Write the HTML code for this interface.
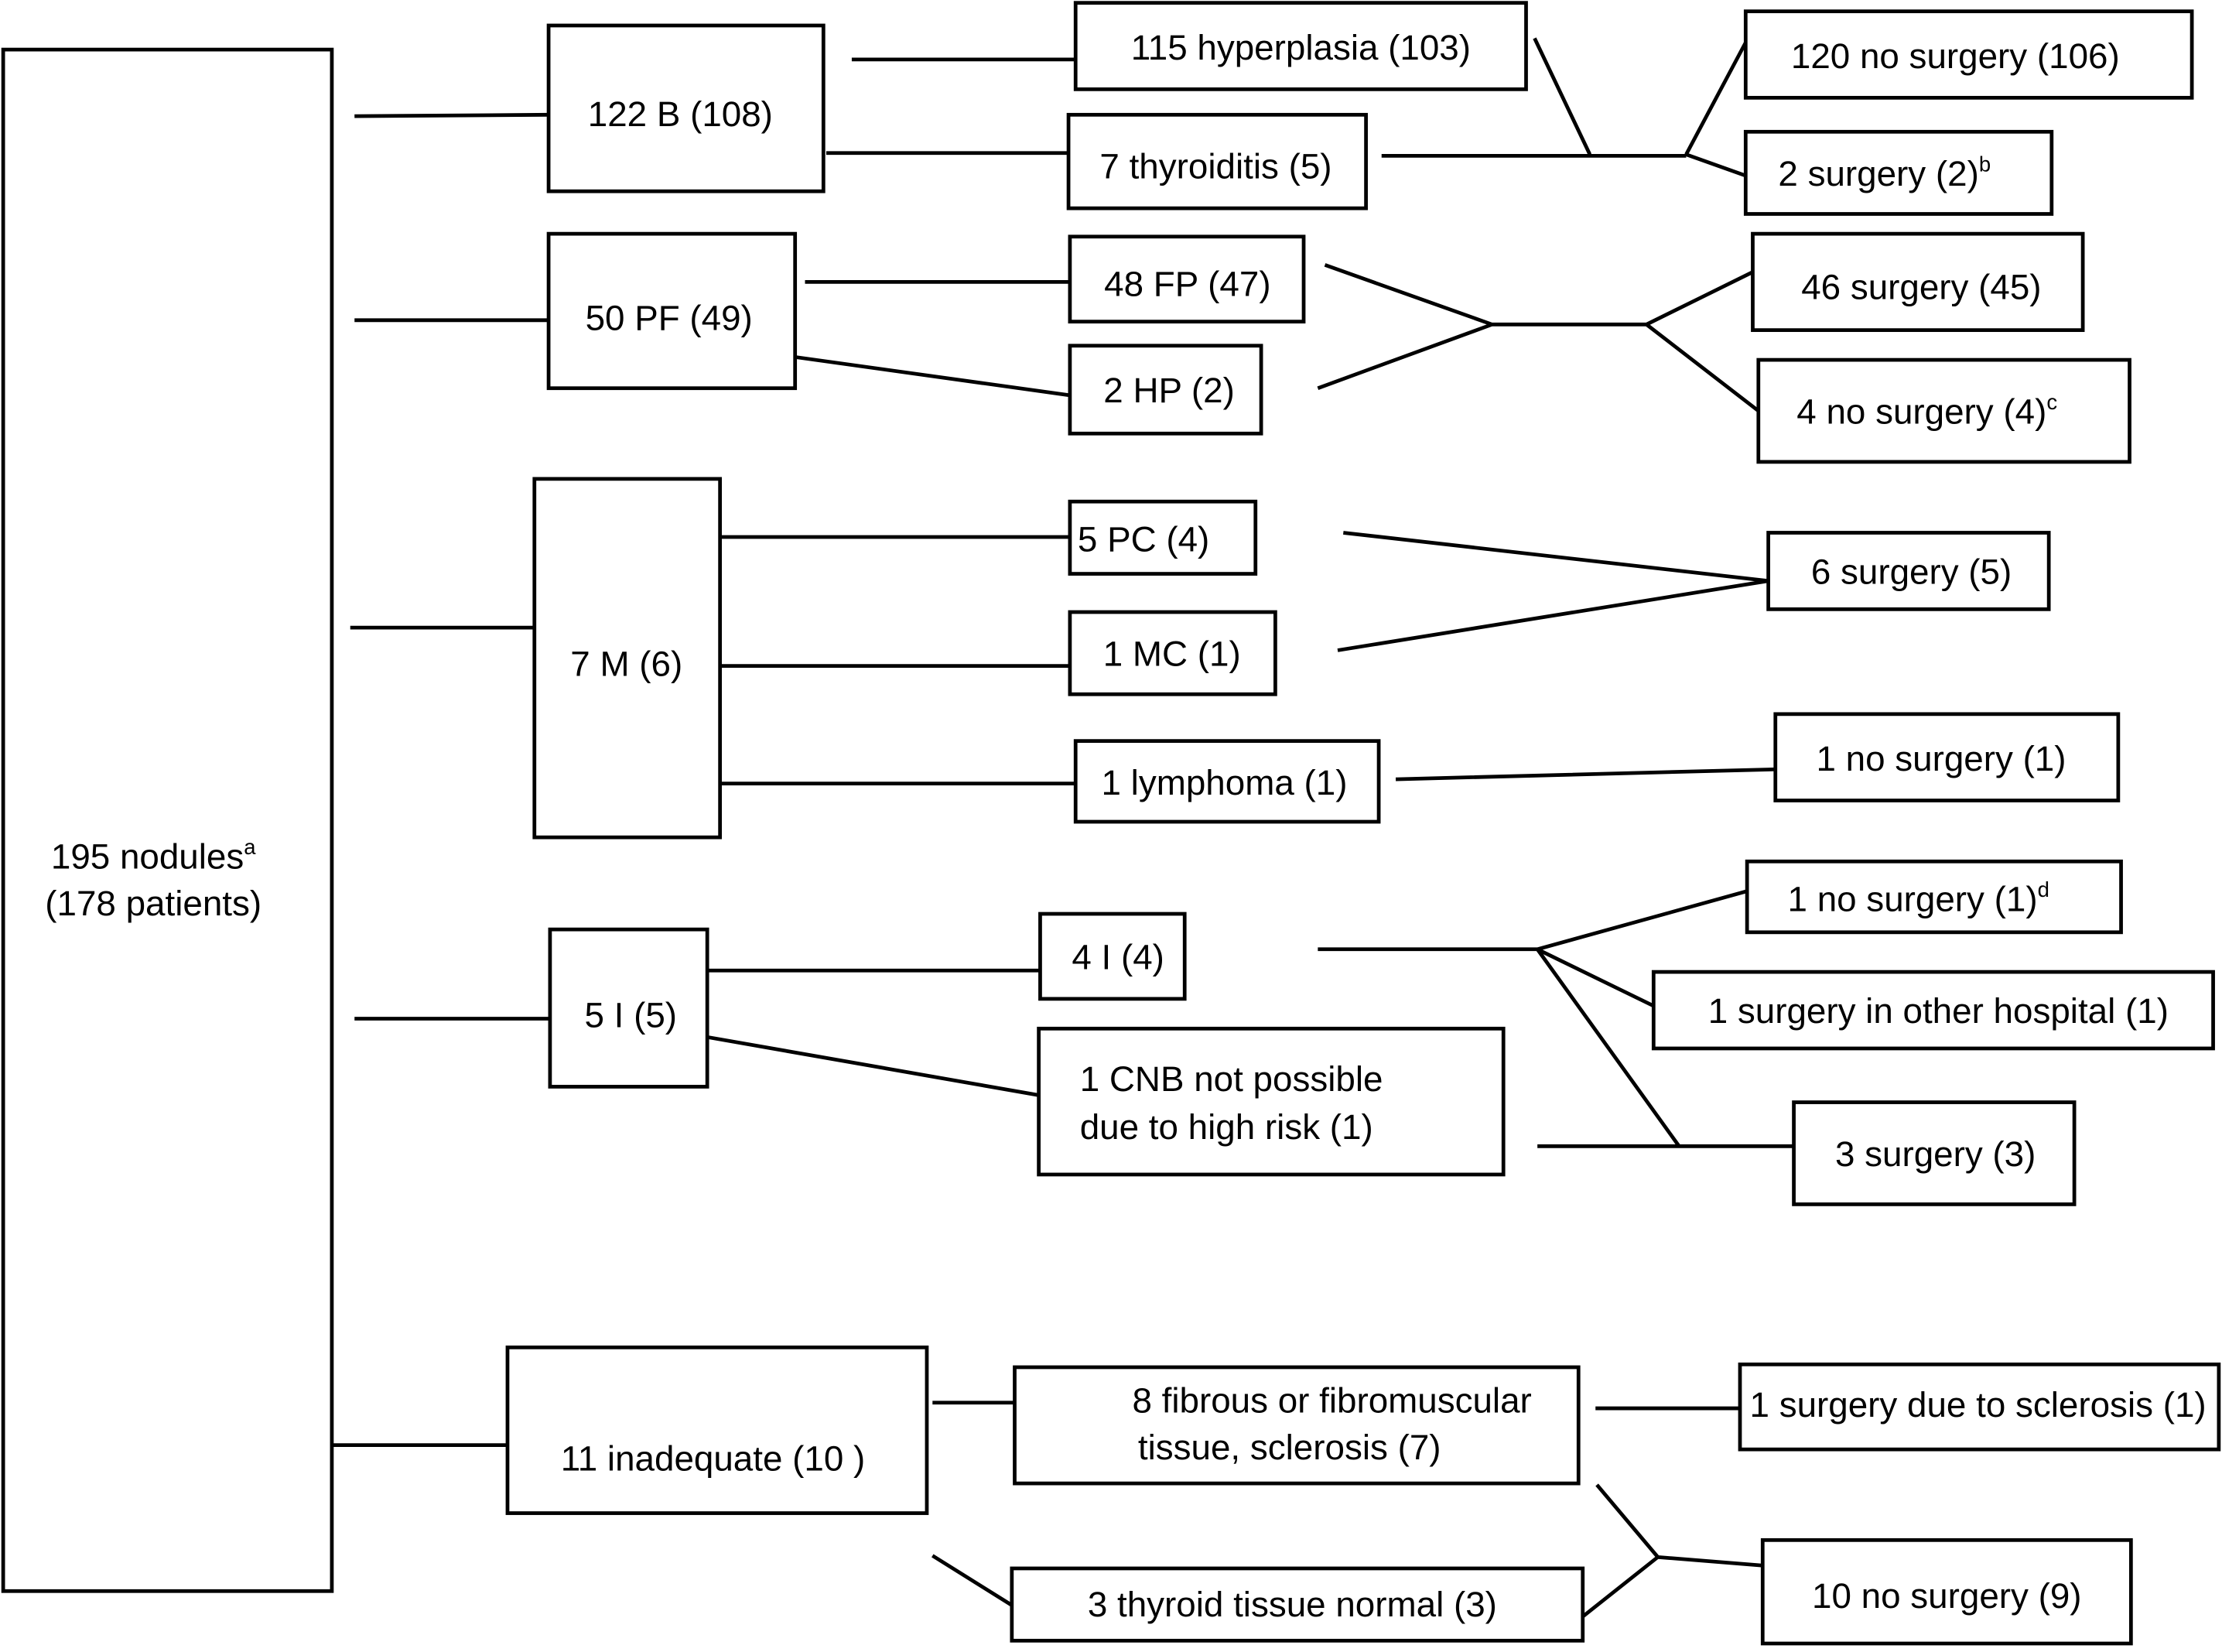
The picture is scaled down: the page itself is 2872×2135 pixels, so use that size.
<!DOCTYPE html>
<html><head><meta charset="utf-8"><style>html,body{margin:0;padding:0;background:#fff}svg{display:block}</style></head><body>
<svg width="2872" height="2135" viewBox="0 0 1568 1166" xmlns="http://www.w3.org/2000/svg" font-family="Liberation Sans, sans-serif" font-size="25">
<rect width="1568" height="1166" fill="#fff"/>
<g fill="none" stroke="#000" stroke-width="2.6">
<rect x="2" y="35" width="232" height="1088"/>
<rect x="387" y="18" width="194" height="117"/>
<rect x="759" y="2" width="318" height="61"/>
<rect x="754" y="81" width="210" height="66"/>
<rect x="1232" y="8" width="315" height="61"/>
<rect x="1232" y="93" width="216" height="58"/>
<rect x="387" y="165" width="174" height="109"/>
<rect x="755" y="167" width="165" height="60"/>
<rect x="755" y="244" width="135" height="62"/>
<rect x="1237" y="165" width="233" height="68"/>
<rect x="1241" y="254" width="262" height="72"/>
<rect x="377" y="338" width="131" height="253"/>
<rect x="755" y="354" width="131" height="51"/>
<rect x="755" y="432" width="145" height="58"/>
<rect x="759" y="523" width="214" height="57"/>
<rect x="1248" y="376" width="198" height="54"/>
<rect x="1253" y="504" width="242" height="61"/>
<rect x="1233" y="608" width="264" height="50"/>
<rect x="734" y="645" width="102" height="60"/>
<rect x="388" y="656" width="111" height="111"/>
<rect x="733" y="726" width="328" height="103"/>
<rect x="1167" y="686" width="395" height="54"/>
<rect x="1266" y="778" width="198" height="72"/>
<rect x="358" y="951" width="296" height="117"/>
<rect x="716" y="965" width="398" height="82"/>
<rect x="714" y="1107" width="403" height="51"/>
<rect x="1228" y="963" width="338" height="60"/>
<rect x="1244" y="1087" width="260" height="73"/>
<path d="M250 82L387 81M601 42H759M583 108H754M1083 27L1122 109M975 110H1190M1190 109L1232 30M1190 109L1232 124"/>
<path d="M250 226H387M568 199H755M561 252L755 279M935 187L1053 229M930 274L1053 229M1053 229H1162M1162 229L1237 192M1162 229L1241 290"/>
<path d="M247 443H377M508 379H755M508 470H755M508 553H759M948 376L1248 410M944 459L1248 410M985 550L1253 543"/>
<path d="M250 719H388M499 685H734M499 732L733 773M930 670H1085M1085 670L1233 629M1085 670L1167 710M1085 670L1185 809M1085 809H1266"/>
<path d="M234 1020H358M658 990H716M658 1098L714 1133M1126 994H1228M1127 1048L1170 1099M1117 1141L1170 1099M1170 1099L1244 1105"/>
</g>
<g fill="#000" text-anchor="middle">
<text x="108" y="613">195 nodules<tspan font-size="15" dy="-10">a</tspan></text>
<text x="108" y="646">(178 patients)</text>
<text x="480" y="89">122 B (108)</text>
<text x="918" y="42">115 hyperplasia (103)</text>
<text x="858" y="126">7 thyroiditis (5)</text>
<text x="1380" y="48">120 no surgery (106)</text>
<text x="1330" y="131">2 surgery (2)<tspan font-size="15" dy="-10">b</tspan></text>
<text x="472" y="233">50 PF (49)</text>
<text x="838" y="209">48 FP (47)</text>
<text x="825" y="284">2 HP (2)</text>
<text x="1356" y="211">46 surgery (45)</text>
<text x="1360" y="299">4 no surgery (4)<tspan font-size="15" dy="-10">c</tspan></text>
<text x="442" y="477">7 M (6)</text>
<text x="807" y="389">5 PC (4)</text>
<text x="827" y="470">1 MC (1)</text>
<text x="864" y="561">1 lymphoma (1)</text>
<text x="1349" y="412">6 surgery (5)</text>
<text x="1370" y="544">1 no surgery (1)</text>
<text x="1354" y="643">1 no surgery (1)<tspan font-size="15" dy="-10">d</tspan></text>
<text x="789" y="684">4 I (4)</text>
<text x="445" y="725">5 I (5)</text>
<text x="762" y="770" text-anchor="start">1 CNB not possible</text>
<text x="762" y="804" text-anchor="start">due to high risk (1)</text>
<text x="1368" y="722">1 surgery in other hospital (1)</text>
<text x="1366" y="823">3 surgery (3)</text>
<text x="503" y="1038">11 inadequate (10 )</text>
<text x="940" y="997">8 fibrous or fibromuscular</text>
<text x="910" y="1030">tissue, sclerosis (7)</text>
<text x="912" y="1141">3 thyroid tissue normal (3)</text>
<text x="1396" y="1000">1 surgery due to sclerosis (1)</text>
<text x="1374" y="1135">10 no surgery (9)</text>
</g>
</svg>
</body></html>
